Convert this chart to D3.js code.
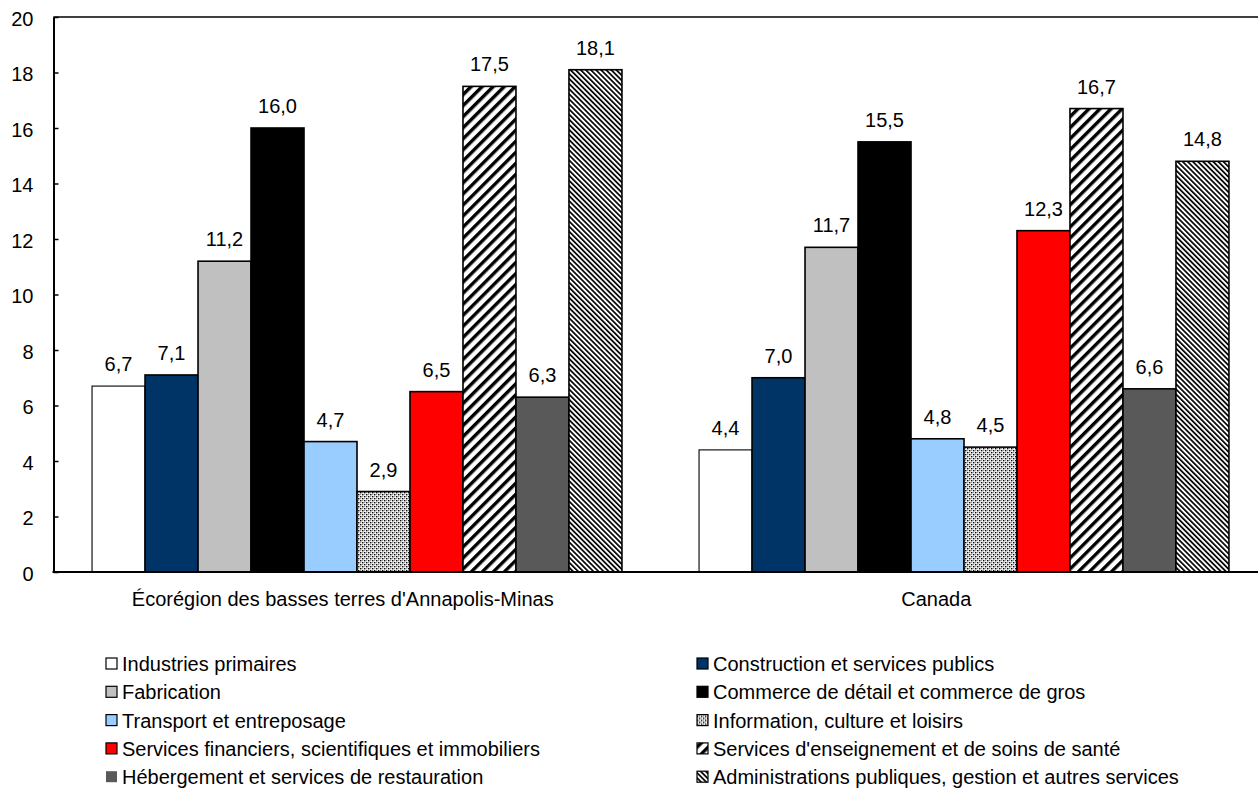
<!DOCTYPE html>
<html>
<head>
<meta charset="utf-8">
<script src="https://cdn.jsdelivr.net/npm/d3@7"></script>
<style>
  html, body { margin: 0; padding: 0; background: #fff; }
  svg { display: block; font-family: "Liberation Sans", Arial, sans-serif; }
</style>
</head>
<body>
<svg id="chart" width="1258" height="797"></svg>
<script>
const categories = ["Écorégion des basses terres d'Annapolis-Minas", "Canada"];
const seriesNames = [
  "Industries primaires",
  "Construction et services publics",
  "Fabrication",
  "Commerce de détail et commerce de gros",
  "Transport et entreposage",
  "Information, culture et loisirs",
  "Services financiers, scientifiques et immobiliers",
  "Services d'enseignement et de soins de santé",
  "Hébergement et services de restauration",
  "Administrations publiques, gestion et autres services"
];
const valuesAnnapolis = [6.7, 7.1, 11.2, 16.0, 4.7, 2.9, 6.5, 17.5, 6.3, 18.1];
const valuesCanada = [4.4, 7.0, 11.7, 15.5, 4.8, 4.5, 12.3, 16.7, 6.6, 14.8];
const yTicks = [0, 2, 4, 6, 8, 10, 12, 14, 16, 18, 20];

const fills = ["#ffffff", "#003366", "#c0c0c0", "#000000", "#99ccff",
  "url(#dots)", "#ff0000", "url(#wideUp)", "#595959", "url(#narrowDown)"];

const FONT = 20;
const svg = d3.select("#chart");
const defs = svg.append("defs");

// dotted pattern
const pd = defs.append("pattern").attr("id", "dots").attr("patternUnits", "userSpaceOnUse")
  .attr("width", 4).attr("height", 4);
pd.append("rect").attr("width", 4).attr("height", 4).attr("fill", "#ffffff");
pd.append("rect").attr("x", 0).attr("y", 0).attr("width", 1.4).attr("height", 1.4).attr("fill", "#000");
pd.append("rect").attr("x", 2).attr("y", 2).attr("width", 1.4).attr("height", 1.4).attr("fill", "#000");
pd.append("rect").attr("x", 2).attr("y", 0).attr("width", 1.2).attr("height", 1.2).attr("fill", "#9a9a9a");
pd.append("rect").attr("x", 0).attr("y", 2).attr("width", 1.2).attr("height", 1.2).attr("fill", "#9a9a9a");

// wide upward diagonal
const pw = defs.append("pattern").attr("id", "wideUp").attr("patternUnits", "userSpaceOnUse")
  .attr("width", 7.8).attr("height", 7.8).attr("patternTransform", "rotate(45)");
pw.append("rect").attr("width", 7.8).attr("height", 7.8).attr("fill", "#fff");
pw.append("rect").attr("width", 3.4).attr("height", 7.8).attr("fill", "#000");

// narrow downward diagonal
const pn = defs.append("pattern").attr("id", "narrowDown").attr("patternUnits", "userSpaceOnUse")
  .attr("width", 3.6).attr("height", 3.6).attr("patternTransform", "rotate(-45)");
pn.append("rect").attr("width", 3.6).attr("height", 3.6).attr("fill", "#fff");
pn.append("rect").attr("width", 1.7).attr("height", 3.6).attr("fill", "#000");

const plotLeft = 53.5, plotRight = 1267.5, plotTop = 17, plotBottom = 572;

const x0 = d3.scaleBand().domain(categories).range([plotLeft, plotRight])
  .paddingInner(0.127).paddingOuter(0.0635);
const x1 = d3.scaleBand().domain(d3.range(seriesNames.length)).range([0, x0.bandwidth()]);
const y = d3.scaleLinear().domain([0, 20]).range([plotBottom, plotTop]);
const xLabel = d3.scaleBand().domain(categories).range([46, 1233]);

const data = [valuesAnnapolis, valuesCanada];

// plot border (top)
svg.append("line").attr("x1", plotLeft).attr("x2", plotRight).attr("y1", y(20)).attr("y2", y(20))
  .attr("stroke", "#000").attr("stroke-width", 1.5);

// bars
categories.forEach((c, ci) => {
  const g = svg.append("g").attr("transform", `translate(${x0(c)},0)`);
  g.selectAll("rect").data(data[ci]).join("rect")
    .attr("x", (d, i) => x1(i))
    .attr("y", d => y(d))
    .attr("width", x1.bandwidth())
    .attr("height", d => y(0) - y(d))
    .attr("fill", (d, i) => fills[i])
    .attr("stroke", "#000")
    .attr("stroke-width", (d, i) => i === 0 ? 1.1 : 1.6);
  g.selectAll("text").data(data[ci]).join("text")
    .attr("x", (d, i) => x1(i) + x1.bandwidth() / 2)
    .attr("y", d => y(d) - 15)
    .attr("text-anchor", "middle")
    .attr("font-size", FONT)
    .attr("fill", "#000")
    .text(d => d.toFixed(1).replace(".", ","));
});

// y axis
const yAxis = d3.axisLeft(y).tickValues(yTicks).tickSizeInner(-5).tickSizeOuter(0).tickPadding(20)
  .tickFormat(d => d);
const ya = svg.append("g").attr("transform", `translate(${plotLeft},0)`).call(yAxis);
ya.select(".domain").attr("stroke", "#000").attr("stroke-width", 2);
ya.selectAll(".tick line").attr("stroke", "#000").attr("stroke-width", 1.5);
ya.selectAll(".tick text").attr("font-size", FONT).attr("fill", "#000")
  .attr("dy", "0.4em")
  .attr("font-family", "Liberation Sans, Arial, sans-serif");

// x axis
svg.append("line").attr("x1", plotLeft - 1).attr("x2", plotRight).attr("y1", y(0)).attr("y2", y(0))
  .attr("stroke", "#000").attr("stroke-width", 2);

svg.selectAll(".cat").data(categories).join("text")
  .attr("class", "cat")
  .attr("x", d => xLabel(d) + xLabel.bandwidth() / 2)
  .attr("y", 606)
  .attr("text-anchor", "middle")
  .attr("font-size", FONT)
  .attr("fill", "#000")
  .text(d => d);

// legend
const legX = [106, 697];
const legY0 = 671, legDy = 28.3;
seriesNames.forEach((name, i) => {
  const col = i % 2, row = Math.floor(i / 2);
  const gx = legX[col], gy = legY0 + row * legDy;
  const g = svg.append("g").attr("transform", `translate(${gx},${gy})`);
  g.append("rect").attr("x", 0).attr("y", -13).attr("width", 11).attr("height", 11)
    .attr("fill", fills[i])
    .attr("stroke", i === 8 ? "none" : "#000")
    .attr("stroke-width", 1.2);
  g.append("text").attr("x", 16).attr("y", 0).attr("font-size", FONT).attr("fill", "#000").text(name);
});
</script>
</body>
</html>
